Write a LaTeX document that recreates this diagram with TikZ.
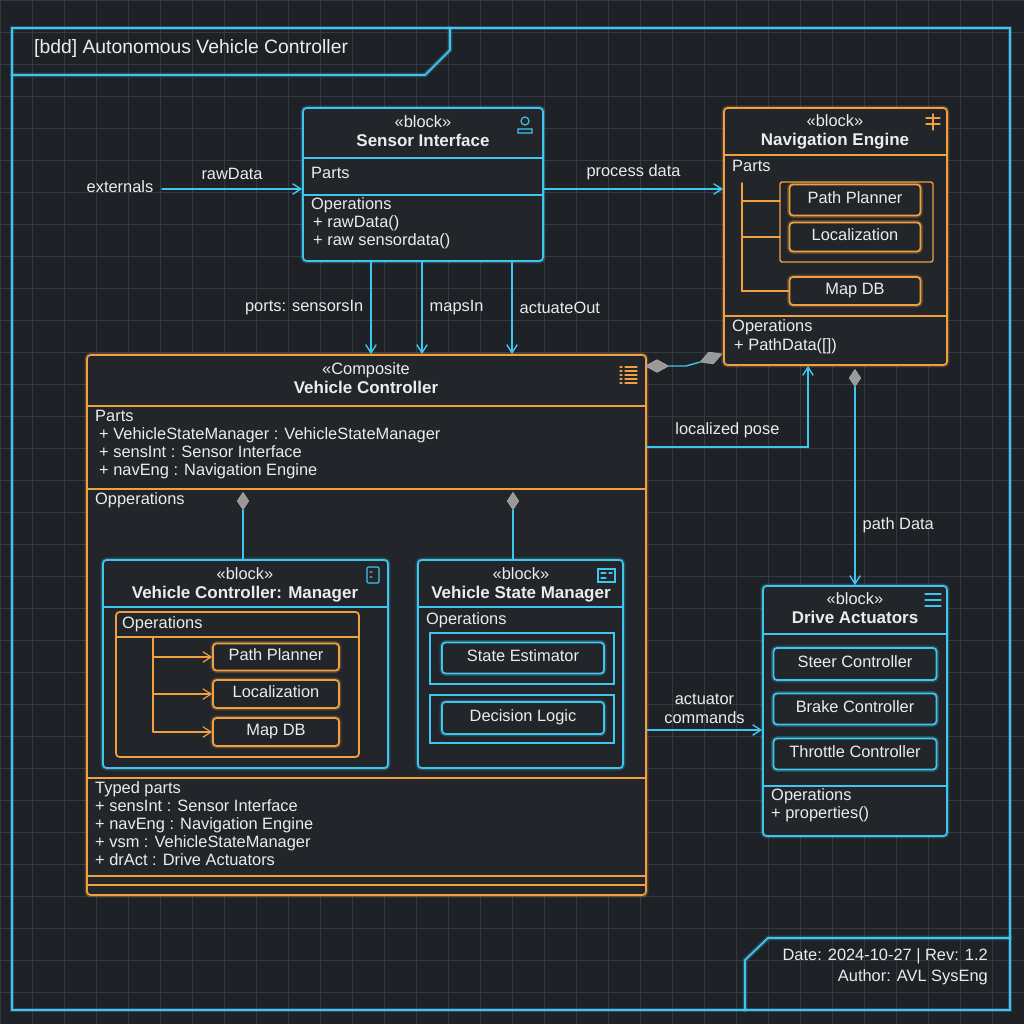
\documentclass[tikz,border=0pt]{standalone}
\usepackage{fontspec}
\setmainfont{Liberation Sans}
\usetikzlibrary{arrows.meta}
\usetikzlibrary{fit}
\usetikzlibrary{shapes.geometric}

\begin{document}
\begin{tikzpicture}[x=0.03cm,y=-0.03cm,>={Straight Barb[length=7pt,width=9pt]},line cap=round,
  glow/.style={preaction={draw,#1,line width=4pt,opacity=0.25}},
  cbox/.style={draw=cyanc,line width=1.5pt,rounded corners=3pt,fill=boxbg,glow=cyanc,inner sep=0pt},
  obox/.style={draw=orangec,line width=1.5pt,rounded corners=3pt,fill=boxbg,glow=orangec,inner sep=0pt},
  sep line/.style={line width=1.5pt},
  txt/.style={text=textc,font=\fontsize{14}{16}\selectfont,inner sep=0pt,anchor=mid},
  ltxt/.style={txt,anchor=mid west},
  ttl/.style={txt,font=\fontsize{14.5}{16}\selectfont\bfseries},
  conn/.style={draw=cyanc,line width=1.2pt,->},
  comp/.style={diamond,fill=gray!80,draw=gray!60,inner sep=0pt,minimum width=10pt,minimum height=15pt},
  compw/.style={comp,minimum width=20pt,minimum height=11pt}]
 \definecolor{cyanc}{HTML}{3EC6EE}
 \definecolor{orangec}{HTML}{F0A040}
 \definecolor{bgc}{HTML}{1E2126}
 \definecolor{gridc}{HTML}{343A42}
 \definecolor{boxbg}{HTML}{22262B}
 \definecolor{textc}{HTML}{ECECEC}

 % background and grid
 \fill[bgc] (0,0) rectangle (1024,1024);
 \useasboundingbox (0,0) rectangle (1024,1024);
 \foreach \g in {0,32,...,1024} {
   \draw[gridc,line width=0.6pt] (\g,0) -- (\g,1024);
   \draw[gridc,line width=0.6pt] (0,\g) -- (1024,\g);
 }

 % frame
 \draw[cyanc,line width=1.5pt,glow=cyanc] (12,28) rectangle (1010,1010);
 \draw[cyanc,line width=1.5pt,glow=cyanc] (12,75) -- (425,75) -- (450,50) -- (450,28);
 \node[ltxt,font=\fontsize{16.5}{18}\selectfont] (title) at (34,50) {[bdd] Autonomous Vehicle Controller};
 \draw[cyanc,line width=1.5pt,glow=cyanc] (745,1010) -- (745,960) -- (768,938) -- (1010,938);
 \node[txt,anchor=mid east] (date) at (988,957) {Date: 2024-10-27 | Rev: 1.2};
 \node[txt,anchor=mid east] (author) at (988,978) {Author: AVL SysEng};

 % Sensor Interface
 \node[cbox,fit={(303,108)(543,261)}] (si) {};
 \draw[cyanc,sep line] (303,158) -- (543,158) (303,195) -- (543,195);
 \node[txt] at (423,124) {«block»};
 \node[ttl] at (423,143) {Sensor Interface};
 \draw[cyanc,line width=1pt] (525,121) circle (4) (518,133) -- (518,129) -- (532,129) -- (532,133) -- cycle;
 \node[ltxt] at (311,175) {Parts};
 \node[ltxt] at (311,206) {Operations};
 \node[ltxt] at (313,224) {+ rawData()};
 \node[ltxt] at (313,242) {+ raw sensordata()};

 % Navigation Engine
 \node[obox,fit={(724,108)(947,365)}] (ne) {};
 \draw[orangec,sep line] (724,155) -- (947,155) (724,316) -- (947,316);
 \node[txt] at (835,123) {«block»};
 \node[ttl] at (835,142) {Navigation Engine};
 \draw[orangec,line width=1pt] (926,118) -- (940,118) (926,124) -- (940,124) (933,114) -- (933,130);
 \node[ltxt] at (732,168) {Parts};
 \draw[orangec,line width=1.2pt,rounded corners=2pt] (780,182) rectangle (933,262);
 \node[obox,minimum width=131*0.03cm,minimum height=31*0.03cm] (nepp) at (855,200) {};
 \node[txt] at (nepp) {Path Planner};
 \node[obox,minimum width=131*0.03cm,minimum height=29*0.03cm] (neloc) at (855,237) {};
 \node[txt] at (neloc) {Localization};
 \node[obox,minimum width=131*0.03cm,minimum height=28*0.03cm] (nedb) at (855,291) {};
 \node[txt] at (nedb) {Map DB};
 \draw[orangec,line width=1pt] (742,183) -- (742,291) -- (nedb.west) (742,201) -- (780,201) (742,237) -- (780,237);
 \node[ltxt] at (732,328) {Operations};
 \node[ltxt] at (734,347) {+ PathData([])};

 % Vehicle Controller
 \node[obox,fit={(87,355)(646,895)}] (vc) {};
 \draw[orangec,sep line] (87,406) -- (646,406) (87,489) -- (646,489) (87,778) -- (646,778)
   (87,876) -- (646,876) (87,885) -- (646,885);
 \node[txt] at (366,371) {«Composite};
 \node[ttl] at (366,390) {Vehicle Controller};
 \foreach \i in {0,1,2,3,4}
   \draw[orangec,line width=1pt] (620,367+\i*4) -- (622,367+\i*4) (625,367+\i*4) -- (637,367+\i*4);
 \node[ltxt] at (95,418) {Parts};
 \node[ltxt] at (99,436) {+ VehicleStateManager : VehicleStateManager};
 \node[ltxt] at (99,454) {+ sensInt : Sensor Interface};
 \node[ltxt] at (99,472) {+ navEng : Navigation Engine};
 \node[ltxt] at (95,501) {Opperations};
 \node[ltxt] at (95,790) {Typed parts};
 \node[ltxt] at (95,808) {+ sensInt : Sensor Interface};
 \node[ltxt] at (95,826) {+ navEng : Navigation Engine};
 \node[ltxt] at (95,844) {+ vsm : VehicleStateManager};
 \node[ltxt] at (95,862) {+ drAct : Drive Actuators};

 % Vehicle Controller Manager
 \node[cbox,fit={(103,560)(388,768)}] (vcm) {};
 \draw[cyanc,sep line] (103,607) -- (388,607);
 \node[txt] at (245,576) {«block»};
 \node[ttl] at (245,595) {Vehicle Controller: Manager};
 \draw[cyanc,line width=1pt,rounded corners=1pt] (367,567) rectangle (379,583) (370,572) -- (372,572) (370,577) -- (372,577);
 \draw[orangec,line width=1.5pt,rounded corners=3pt] (116,612) rectangle (359,757) (116,637) -- (359,637);
 \node[ltxt] at (122,625) {Operations};
 \node[obox,minimum width=126*0.03cm,minimum height=27*0.03cm] (vpp) at (276,657) {};
 \node[txt] at (vpp) {Path Planner};
 \node[obox,minimum width=126*0.03cm,minimum height=28*0.03cm] (vloc) at (276,694) {};
 \node[txt] at (vloc) {Localization};
 \node[obox,minimum width=126*0.03cm,minimum height=28*0.03cm] (vdb) at (276,732) {};
 \node[txt] at (vdb) {Map DB};
 \coordinate (trunk) at (153,637);
 \draw[orangec,line width=1pt] (trunk) -- (153,732);
 \foreach \b in {vpp,vloc,vdb}
   \draw[orangec,line width=1pt,->] (153,0 |- \b.west) -- (\b.west);

 % Vehicle State Manager
 \node[cbox,fit={(418,560)(623,768)}] (vsm) {};
 \draw[cyanc,sep line] (418,607) -- (623,607);
 \node[txt] at (521,576) {«block»};
 \node[ttl] at (521,595) {Vehicle State Manager};
 \draw[cyanc,line width=1pt] (598,569) rectangle (615,582) (601,573) -- (606,573) (601,578) -- (606,578) (609,573) -- (612,573);
 \node[ltxt] at (426,621) {Operations};
 \draw[cyanc,line width=1.2pt] (430,633) rectangle (614,684) (430,695) rectangle (614,743);
 \node[cbox,minimum width=162*0.03cm,minimum height=31*0.03cm] (se) at (523,658) {};
 \node[txt] at (se) {State Estimator};
 \node[cbox,minimum width=162*0.03cm,minimum height=32*0.03cm] (dl) at (523,718) {};
 \node[txt] at (dl) {Decision Logic};

 % Drive Actuators
 \node[cbox,fit={(763,586)(947,836)}] (da) {};
 \draw[cyanc,sep line] (763,634) -- (947,634) (763,786) -- (947,786);
 \node[txt] at (855,601) {«block»};
 \node[ttl] at (855,620) {Drive Actuators};
 \draw[cyanc,line width=1pt] (925,594) -- (941,594) (925,600) -- (941,600) (925,606) -- (941,606);
 \node[cbox,minimum width=163*0.03cm,minimum height=32*0.03cm] (sc) at (855,664) {};
 \node[txt] at (sc) {Steer Controller};
 \node[cbox,minimum width=163*0.03cm,minimum height=31*0.03cm] (bc) at (855,709) {};
 \node[txt] at (bc) {Brake Controller};
 \node[cbox,minimum width=163*0.03cm,minimum height=31*0.03cm] (tc) at (855,754) {};
 \node[txt] at (tc) {Throttle Controller};
 \node[ltxt] at (771,797) {Operations};
 \node[ltxt] at (771,815) {+ properties()};

 % connectors
 \node[txt] (ext) at (120,189) {externals};
 \coordinate (extout) at (162,189);
 \draw[conn] (extout) -- (si.west |- extout) node[midway,txt,above=7pt] {rawData};
 \draw[conn] (si.east |- 0,189) -- node[txt,above=7pt] {process data} (ne.west |- 0,189);
 \draw[conn] (si.south -| 371,0) -- node[txt,left=6pt] {ports: sensorsIn} (vc.north -| 371,0);
 \draw[conn] (si.south -| 422,0) -- node[txt,right=6pt] {mapsIn} (vc.north -| 422,0);
 \draw[conn] (si.south -| 512,0) -- node[txt,right=6pt] {actuateOut} (vc.north -| 512,0);

 \node[compw] (dvc) at (657,366) {};
 \node[compw,rotate=20] (dne) at (711,358) {};
 \draw[cyanc,line width=1.2pt] (dvc.east) -- (686,366) -- (dne.west);

 \draw[conn] (vc.east |- 0,447) -- (808,447) node[midway,txt,above=7pt] {localized pose} -- (ne.south -| 808,0);

 \node[comp] (dnav) at (855,378) {};
 \draw[conn] (dnav.south) -- node[pos=0.7,txt,right=6pt] {path Data} (da.north -| 855,0);

 \draw[conn] (vc.east |- 0,730) -- (da.west |- 0,730)
   node[midway,txt,above=5pt,align=center] {actuator\\commands};

 \node[comp] (dvcm) at (243,501) {};
 \draw[cyanc,line width=1.2pt] (dvcm.south) -- (vcm.north -| 243,0);
 \node[comp] (dvsm) at (513,501) {};
 \draw[cyanc,line width=1.2pt] (dvsm.south) -- (vsm.north -| 513,0);
\end{tikzpicture}
\end{document}
